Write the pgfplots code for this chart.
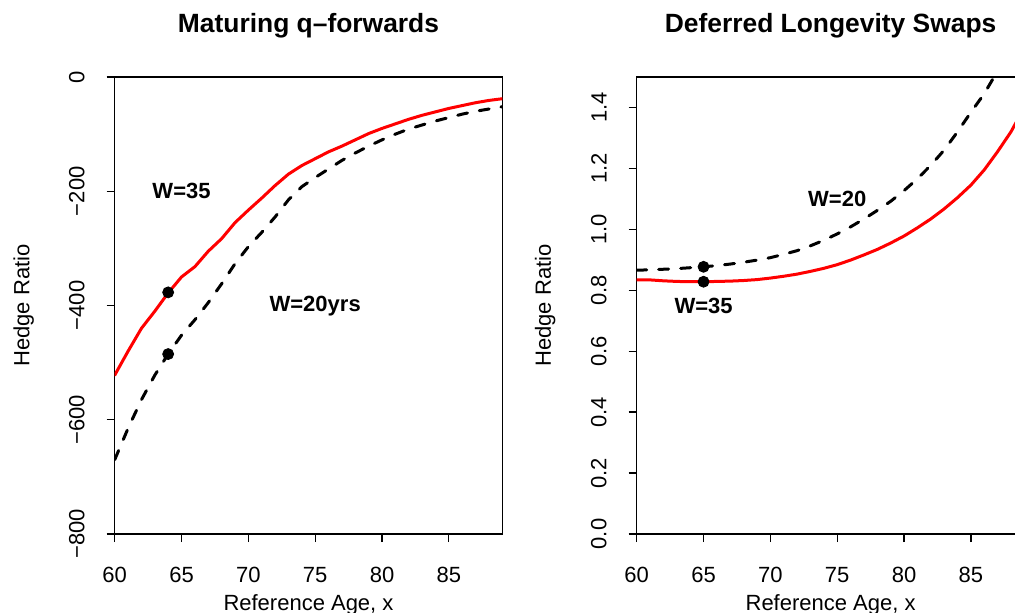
\documentclass[border=0pt]{standalone}
\usepackage{pgfplots}
\pgfplotsset{compat=1.18}
\usepackage{fontspec}
\setmainfont{Liberation Sans}

\pgfplotsset{
  rpanel/.style={
    scale only axis, width=193.8pt, height=228.5pt,
    anchor=south west,
    xmin=60, xmax=89,
    axis line style={line width=0.65pt},
    tick style={line width=0.65pt, black},
    tick align=outside, major tick length=4pt,
    xtick pos=left, ytick pos=left,
    xtick={60,65,70,75,80,85},
    xticklabels={60,65,70,75,80,85},
    tick label style={font=\fontsize{11}{13}\selectfont},
    xticklabel style={anchor=north, yshift=-9pt},
    yticklabel style={xshift=-7.5pt, rotate=90, anchor=south},
  },
  redline/.style={red, line width=1.5pt, line join=round, line cap=round},
  dashline/.style={black, line width=1.5pt, dash pattern=on 5pt off 6pt, line cap=round, line join=round},
  dots/.style={only marks, mark=*, mark size=2.75pt, black},
}
\tikzset{lab/.style={font=\fontsize{11}{13}\selectfont\bfseries, anchor=base}}

\begin{document}
\begin{tikzpicture}
\path[use as bounding box] (0,0) rectangle (507.5pt,-306.5pt);

% left panel
\begin{axis}[rpanel, at={(57.35pt,-267pt)},
  ymin=-800, ymax=0,
  ytick={-800,-600,-400,-200,0},
  yticklabels={−800,−600,−400,−200,0},
]
\addplot[redline] coordinates {
 (60,-522) (61,-480) (62,-440) (63,-410) (64,-378) (65,-350) (66,-332) (67,-305)
 (68,-283) (69,-255) (70,-233) (71,-212) (72,-190) (73,-170) (74,-155) (75,-143)
 (76,-131) (77,-121) (78,-110) (79,-99) (80,-90) (81,-82) (82,-74) (83,-67)
 (84,-61) (85,-55) (86,-50) (87,-45) (88,-41) (89,-38)
};
\addplot[dashline] coordinates {
 (60,-670) (61,-615) (62,-565) (63,-522) (64,-485) (65,-452) (66,-425) (67,-395)
 (68,-362) (69,-327) (70,-297) (71,-272) (72,-245) (73,-215) (74,-192) (75,-176)
 (76,-161) (77,-146) (78,-133) (79,-121) (80,-110) (81,-100) (82,-91) (83,-84)
 (84,-77) (85,-71) (86,-65) (87,-60) (88,-56) (89,-52)
};
\addplot[dots] coordinates {(64,-377) (64,-485)};
\node[lab] at (axis cs:65,-212) {W=35};
\node[lab] at (axis cs:75,-411) {W=20yrs};
\end{axis}

% right panel
\begin{axis}[rpanel, at={(318.35pt,-267pt)},
  ymin=0, ymax=1.5,
  ytick={0,0.2,0.4,0.6,0.8,1.0,1.2,1.4},
  yticklabels={0.0,0.2,0.4,0.6,0.8,1.0,1.2,1.4},
]
\addplot[redline] coordinates {
 (60,0.834) (61,0.834) (62,0.831) (63,0.829) (64,0.828) (65,0.828) (66,0.829) (67,0.830)
 (68,0.832) (69,0.835) (70,0.840) (71,0.846) (72,0.853) (73,0.862) (74,0.872) (75,0.884)
 (76,0.899) (77,0.916) (78,0.934) (79,0.955) (80,0.978) (81,1.005) (82,1.034) (83,1.067)
 (84,1.104) (85,1.145) (86,1.195) (87,1.255) (88,1.320) (89,1.400)
};
\addplot[dashline] coordinates {
 (60,0.866) (61,0.867) (62,0.869) (63,0.871) (64,0.874) (65,0.877) (66,0.881) (67,0.886)
 (68,0.892) (69,0.899) (70,0.907) (71,0.918) (72,0.930) (73,0.946) (74,0.964) (75,0.985)
 (76,1.008) (77,1.034) (78,1.062) (79,1.092) (80,1.127) (81,1.166) (82,1.210) (83,1.260)
 (84,1.320) (85,1.384) (86,1.445) (87,1.520) (88,1.610) (89,1.700)
};
\addplot[dots] coordinates {(65,0.828) (65,0.877)};
\node[lab] at (axis cs:75,1.074) {W=20};
\node[lab] at (axis cs:65,0.724) {W=35};
\end{axis}

% titles and axis labels
\node[font=\fontsize{13.2}{15}\selectfont\bfseries, anchor=base] at (154.25pt,-16.5pt) {Maturing q–forwards};
\node[font=\fontsize{13.2}{15}\selectfont\bfseries, anchor=base] at (415.3pt,-16.5pt) {Deferred Longevity Swaps};
\node[font=\fontsize{11}{13}\selectfont, anchor=base] at (154.25pt,-305.4pt) {Reference Age, x};
\node[font=\fontsize{11}{13}\selectfont, anchor=base] at (415.3pt,-305.4pt) {Reference Age, x};
\node[font=\fontsize{11}{13}\selectfont, anchor=base, rotate=90] at (14.65pt,-152.75pt) {Hedge Ratio};
\node[font=\fontsize{11}{13}\selectfont, anchor=base, rotate=90] at (275.4pt,-152.75pt) {Hedge Ratio};
\end{tikzpicture}
\end{document}
